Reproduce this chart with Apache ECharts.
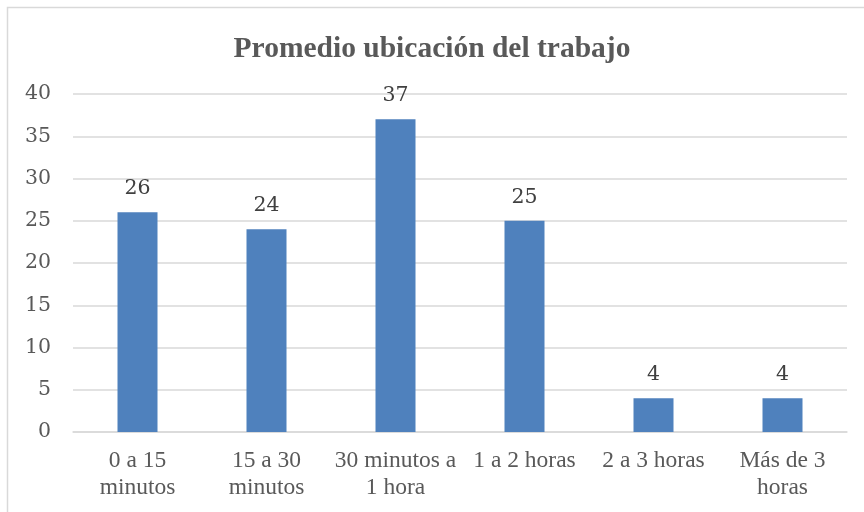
<!DOCTYPE html>
<html>
<head>
<meta charset="utf-8">
<script src="https://cdn.jsdelivr.net/npm/echarts@6/dist/echarts.min.js"></script>
<style>
  html, body { margin: 0; padding: 0; background: #fff; }
  #chart { width: 864px; height: 512px; }
</style>
</head>
<body>
<div id="chart"></div>
<script>
const categories = ['0 a 15\nminutos', '15 a 30\nminutos', '30 minutos a\n1 hora', '1 a 2 horas', '2 a 3 horas', 'Más de 3\nhoras']
const values = [26, 24, 37, 25, 4, 4]
const yTicks = { min: 0, max: 40, interval: 5 }

const chart = echarts.init(document.getElementById('chart'), null, { renderer: 'canvas' })

chart.setOption({
  backgroundColor: '#ffffff',
  animation: false,
  graphic: [
    {
      type: 'rect',
      shape: { x: 7.5, y: 7.5, width: 900, height: 600 },
      style: { fill: 'none', stroke: '#d9d9d9', lineWidth: 1.5 },
      silent: true
    }
  ],
  title: {
    text: 'Promedio ubicación del trabajo',
    left: 'center',
    top: 29,
    textStyle: {
      fontFamily: 'Liberation Serif',
      fontWeight: 'bold',
      fontSize: 29.5,
      color: '#595959'
    }
  },
  grid: {
    left: 73,
    right: 17,
    top: 94,
    bottom: 80,
    containLabel: false
  },
  xAxis: {
    type: 'category',
    data: categories,
    axisLine: { show: true, lineStyle: { color: '#d9d9d9', width: 1.5 } },
    axisTick: { show: false },
    axisLabel: {
      interval: 0,
      margin: 15,
      color: '#595959',
      fontFamily: 'Liberation Serif',
      fontSize: 23.5,
      lineHeight: 27
    }
  },
  yAxis: {
    type: 'value',
    min: yTicks.min,
    max: yTicks.max,
    interval: yTicks.interval,
    axisLine: { show: false },
    axisTick: { show: false },
    splitLine: { lineStyle: { color: '#d9d9d9', width: 1.5 } },
    axisLabel: {
      margin: 22,
      color: '#595959',
      fontFamily: 'DejaVu Serif',
      fontSize: 20.5
    }
  },
  series: [
    {
      type: 'bar',
      data: values,
      barWidth: 40,
      itemStyle: { color: '#4f81bd' },
      label: {
        show: true,
        position: 'top',
        distance: 13,
        color: '#404040',
        fontFamily: 'DejaVu Serif',
        fontSize: 20.5
      }
    }
  ]
})
</script>
</body>
</html>
